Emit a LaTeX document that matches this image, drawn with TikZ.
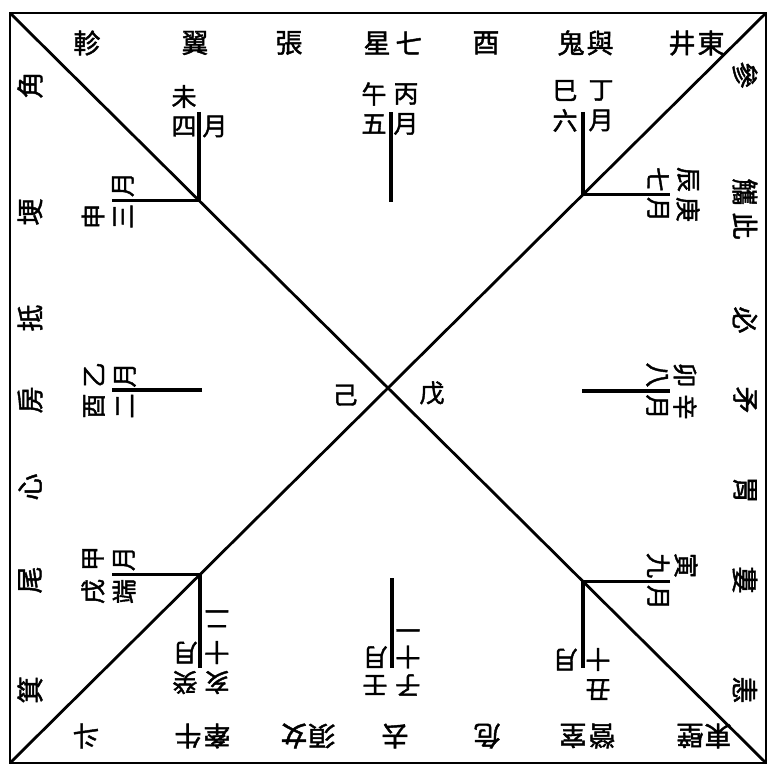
\documentclass[tikz,border=0pt]{standalone}
\usepackage{fontspec}
\newfontfamily\cjk{Noto Sans CJK TC}[FakeBold=1.6]
\usetikzlibrary{calc}
\begin{document}
\begin{tikzpicture}[x=1pt,y=-1pt,
  outer/.style={font=\cjk\fontsize{27}{27}\selectfont, inner sep=0pt},
  inner/.style={font=\cjk\fontsize{25}{25}\selectfont, inner sep=0pt},
  rotl/.style={rotate=90}, rotr/.style={rotate=-90}, rotb/.style={rotate=180},
  stem/.style={line width=3.2pt},
  edge/.style={line width=2.8pt}]
\useasboundingbox (0,0) rectangle (770,767);
% frame and diagonals
\coordinate (TL) at (10,13);
\coordinate (TR) at (766,13);
\coordinate (BR) at (766,763);
\coordinate (BL) at (10,763);
\draw[edge] (TL) rectangle (BR);
\draw[edge] (TL) -- (BR);
\draw[edge] (TR) -- (BL);
% inner nodes
\coordinate (N1) at ($(TL)!0.25!(BR)$);
\coordinate (N4) at ($(TL)!0.758!(BR)$);
\coordinate (N2) at ($(TR)!0.242!(BL)$);
\coordinate (N3) at ($(TR)!0.7487!(BL)$);
\coordinate (Tc) at (391,202);
\coordinate (Bc) at (392,578);
\coordinate (Lc) at (202,390);
\coordinate (Rc) at (582,391);
\coordinate (Ytop) at (0,112);
\coordinate (Ybot) at (0,668);
\coordinate (Xl) at (112,0);
\coordinate (Xr) at (670,0);
\draw[stem] (N1 |- Ytop) -- (N1) -- (N1 -| Xl);
\draw[stem] (N2 |- Ytop) -- (N2) -- (N2 -| Xr);
\draw[stem] (N3 -| Xl) -- (N3) -- (N3 |- Ybot);
\draw[stem] (N4 -| Xr) -- (N4) -- (N4 |- Ybot);
\draw[stem] (Tc) -- (Tc |- Ytop);
\draw[stem] (Bc) -- (Bc |- Ybot);
\draw[stem] (Lc) -- (Lc -| Xl);
\draw[stem] (Rc) -- (Rc -| Xr);
% top row
\node[outer] (t1) at (87,43) {軫};
\node[outer] (t2) at (195,43) {翼};
\node[outer] (t4) at (289,43) {張};
\node[outer] (t3a) at (377,43) {星};
\node[outer] (t3b) at (409,43) {七};
\node[outer] (t5) at (486,43) {酉};
\node[outer] (t6a) at (571,43) {鬼};
\node[outer] (t6b) at (600,43) {與};
\node[outer] (t7a) at (682,43) {井};
\node[outer] (t7b) at (711,43) {東};
% bottom row
\node[outer,rotb] (b1) at (86,736) {斗};
\node[outer,rotb] (b2a) at (188,736) {牛};
\node[outer,rotb] (b2b) at (217,736) {牽};
\node[outer,rotb] (b3a) at (294,736) {女};
\node[outer,rotb] (b3b) at (322,736) {須};
\node[outer,rotb] (b4) at (395,736) {去};
\node[outer,rotb] (b5) at (487,736) {危};
\node[outer,rotb] (b6a) at (573,736) {室};
\node[outer,rotb] (b6b) at (602,736) {營};
\node[outer,rotb] (b7a) at (690,736) {壁};
\node[outer,rotb] (b7b) at (718,736) {東};
% left column
\node[outer,rotl] (l1) at (30,85) {角};
\node[outer,rotl] (l2) at (30,212) {埂};
\node[outer,rotl] (l3) at (30,318) {抵};
\node[outer,rotl] (l4) at (30,400) {房};
\node[outer,rotl] (l5) at (30,487) {心};
\node[outer,rotl] (l6) at (30,580) {尾};
\node[outer,rotl] (l7) at (30,690) {箕};
% right column
\node[outer,rotr] (r1) at (745,75) {參};
\node[outer,rotr] (r2a) at (745,192) {觿};
\node[outer,rotr] (r2b) at (745,226) {此};
\node[outer,rotr] (r3) at (745,320) {必};
\node[outer,rotr] (r4) at (745,400) {矛};
\node[outer,rotr] (r5) at (745,490) {胃};
\node[outer,rotr] (r6) at (745,580) {婁};
\node[outer,rotr] (r7) at (745,690) {恚};
% centre
\node[inner] (ji) at (345,395) {己};
\node[inner] (wu) at (432,393) {戊};
% top-left block (N1)
\node[inner] (a1) at ($(N1)+(-15,-104)$) {未};
\node[inner] (a2) at ($(N1)+(-15,-74)$) {四};
\node[inner] (a3) at ($(N1)+(16,-74)$) {月};
\node[inner,rotl] (a4) at ($(N1)+(-106,16)$) {申};
\node[inner,rotl] (a5) at ($(N1)+(-76,16)$) {三};
\node[inner,rotl] (a6) at ($(N1)+(-76,-16)$) {月};
% top centre block
\node[inner] (c1) at ($(Tc)+(-17,-108)$) {午};
\node[inner] (c2) at ($(Tc)+(15,-108)$) {丙};
\node[inner] (c3) at ($(Tc)+(-17,-78)$) {五};
\node[inner] (c4) at ($(Tc)+(15,-78)$) {月};
% top-right block (N2)
\node[inner] (d1) at ($(N2)+(-18,-104)$) {巳};
\node[inner] (d2) at ($(N2)+(18,-104)$) {丁};
\node[inner] (d3) at ($(N2)+(-18,-74)$) {六};
\node[inner] (d4) at ($(N2)+(18,-74)$) {月};
\node[inner,rotr] (d5) at ($(N2)+(75,-15)$) {七};
\node[inner,rotr] (d6) at ($(N2)+(75,15)$) {月};
\node[inner,rotr] (d7) at ($(N2)+(105,-15)$) {辰};
\node[inner,rotr] (d8) at ($(N2)+(105,15)$) {庚};
% left centre block
\node[inner,rotl] (e1) at ($(Lc)+(-108,-15)$) {乙};
\node[inner,rotl] (e2) at ($(Lc)+(-108,16)$) {酉};
\node[inner,rotl] (e3) at ($(Lc)+(-77,-15)$) {月};
\node[inner,rotl] (e4) at ($(Lc)+(-77,16)$) {二};
% right centre block
\node[inner,rotr] (f1) at ($(Rc)+(75,-16)$) {八};
\node[inner,rotr] (f2) at ($(Rc)+(75,16)$) {月};
\node[inner,rotr] (f3) at ($(Rc)+(103,-16)$) {卯};
\node[inner,rotr] (f4) at ($(Rc)+(103,16)$) {辛};
% bottom-left block (N3)
\node[inner,rotl] (g1) at ($(N3)+(-107,-16)$) {甲};
\node[inner,rotl] (g2) at ($(N3)+(-107,17)$) {戌};
\node[inner,rotl] (g3) at ($(N3)+(-76,-16)$) {月};
\node[inner,rotl] (g4) at ($(N3)+(-76,17)$) {端};
\node[inner,rotb] (g5) at ($(N3)+(17,44)$) {二};
\node[inner,rotb] (g6) at ($(N3)+(17,78)$) {十};
\node[inner,rotb] (g7) at ($(N3)+(-15,78)$) {月};
\node[inner,rotb] (g8) at ($(N3)+(17,108)$) {亥};
\node[inner,rotb] (g9) at ($(N3)+(-15,108)$) {癸};
% bottom centre block
\node[inner,rotb] (h1) at ($(Bc)+(16,48)$) {一};
\node[inner,rotb] (h2) at ($(Bc)+(16,79)$) {十};
\node[inner,rotb] (h3) at ($(Bc)+(-17,79)$) {月};
\node[inner,rotb] (h4) at ($(Bc)+(16,107)$) {子};
\node[inner,rotb] (h5) at ($(Bc)+(-17,107)$) {壬};
% bottom-right block (N4)
\node[inner,rotr] (k1) at ($(N4)+(103,-16)$) {寅};
\node[inner,rotr] (k2) at ($(N4)+(75,-16)$) {九};
\node[inner,rotr] (k3) at ($(N4)+(75,16)$) {月};
\node[inner,rotb] (k4) at ($(N4)+(15,78)$) {十};
\node[inner,rotb] (k5) at ($(N4)+(-18,78)$) {月};
\node[inner,rotb] (k6) at ($(N4)+(15,108)$) {丑};
\end{tikzpicture}
\end{document}
